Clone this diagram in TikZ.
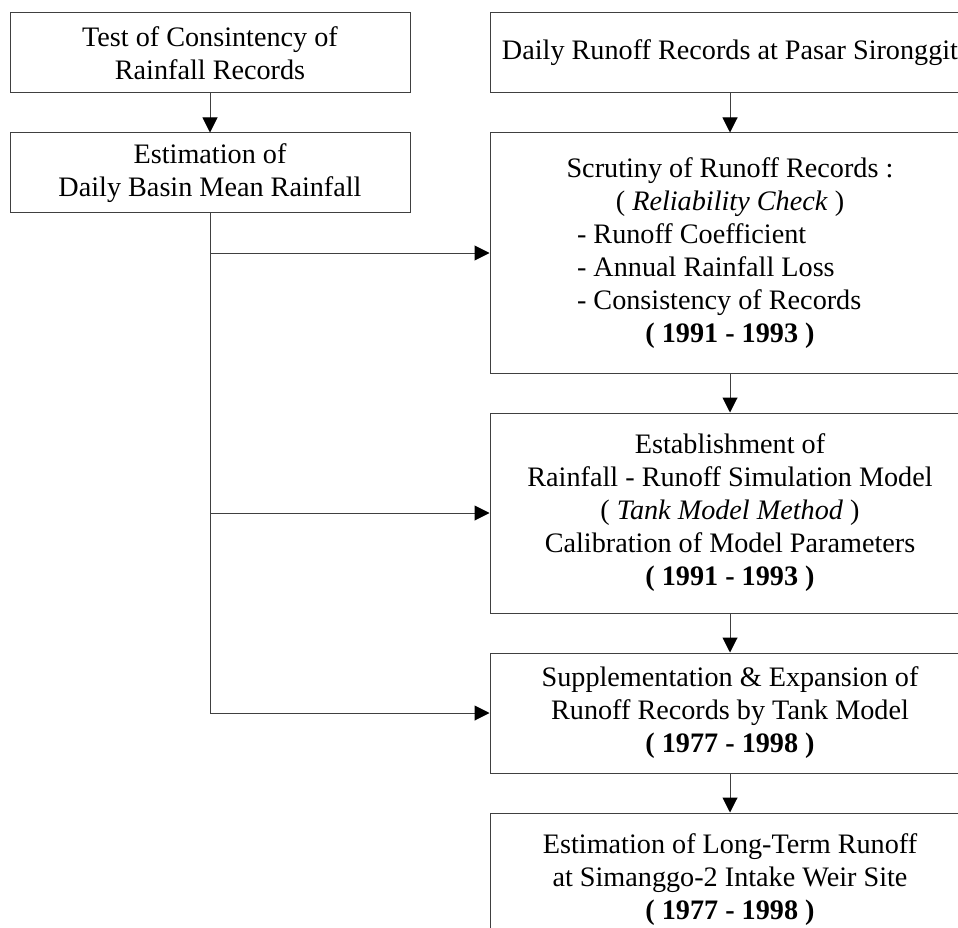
\documentclass[tikz,border=0pt]{standalone}
\usepackage{fontspec}
\setmainfont{Liberation Serif}
\usetikzlibrary{arrows.meta}
\tikzset{>={Triangle[length=15pt,width=15pt,black]}}
\tikzset{flowbox/.style={draw=black!75,line width=1pt,minimum width=400pt,minimum height=80pt,align=center,inner sep=0pt,font=\fontsize{28.2}{33}\selectfont}}
\tikzset{widebox/.style={flowbox,minimum width=480pt}}
\tikzset{flowline/.style={draw=black!75,line width=1pt}}
\newcommand{\listitem}[1]{\hspace*{-28pt}\makebox[278pt][l]{#1}}

\begin{document}
\begin{tikzpicture}[x=1pt,y=-1pt]
  \useasboundingbox (0,0) rectangle (958,928);
  % Left column
  \node[flowbox] (cons) at (210,53) {Test of Consintency of\\Rainfall Records};
  \node[flowbox] (mean) at (210,173) {Estimation of\\Daily Basin Mean Rainfall};
  % Right column
  \node[widebox] (runoff) at (730,53) {Daily Runoff Records at Pasar Sironggit};
  \node[widebox,minimum height=240pt] (scrut) at (730,253) {Scrutiny of Runoff Records :\\( \textit{Reliability Check} )\\\listitem{- Runoff Coefficient}\\\listitem{- Annual Rainfall Loss}\\\listitem{- Consistency of Records}\\\textbf{( 1991 - 1993 )}};
  \node[widebox,minimum height=200pt] (tank) at (730,513) {Establishment of\\Rainfall - Runoff Simulation Model\\( \textit{Tank Model Method} )\\Calibration of Model Parameters\\\textbf{( 1991 - 1993 )}};
  \node[widebox,minimum height=120pt] (suppl) at (730,713) {Supplementation \& Expansion of\\Runoff Records by Tank Model\\\textbf{( 1977 - 1998 )}};
  \node[widebox,minimum height=134pt] (longterm) at (730,880) {Estimation of Long-Term Runoff\\at Simanggo-2 Intake Weir Site\\\textbf{( 1977 - 1998 )}};
  % Arrows
  \draw[flowline,->] (cons) -- (mean);
  \draw[flowline,->] (runoff) -- (scrut);
  \draw[flowline,->] (scrut) -- (tank);
  \draw[flowline,->] (tank) -- (suppl);
  \draw[flowline,->] (suppl) -- (longterm);
  \draw[flowline,->] (mean.south) -- (mean.south |- suppl.west) -- (suppl.west);
  \draw[flowline,->] (mean.south |- scrut.west) -- (scrut.west);
  \draw[flowline,->] (mean.south |- tank.west) -- (tank.west);
\end{tikzpicture}
\end{document}
